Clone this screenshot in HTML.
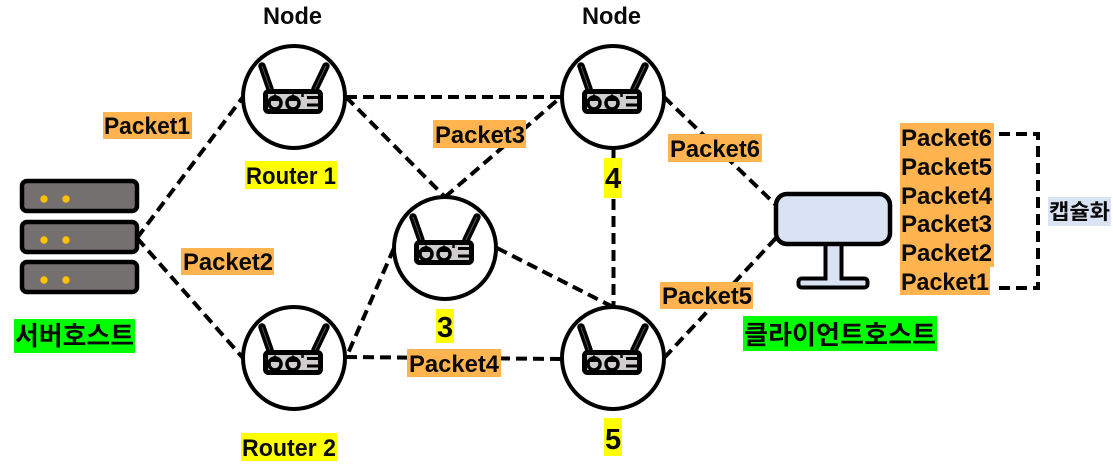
<!DOCTYPE html>
<html><head><meta charset="utf-8"><style>
html,body{margin:0;padding:0;background:#fff}
svg{display:block}
text{font-family:"Liberation Sans","Noto Sans CJK KR",sans-serif;font-weight:bold;fill:#0a0a0a}
.d{fill:none;stroke:#000;stroke-width:4;stroke-dasharray:11 6}
.o{fill:#ffb44f}.y{fill:#ffff00}.g{fill:#00ff00}
</style></head><body>
<svg width="1113" height="466" viewBox="0 0 1113 466" xmlns="http://www.w3.org/2000/svg">
<defs>
<g id="r">
<circle cx="0" cy="0" r="51" fill="#fff" stroke="#000" stroke-width="4"/>
<path d="M-32 -31L-24 -8M32 -31L21 -8" stroke="#000" stroke-width="7.5" stroke-linecap="round" fill="none"/>
<path d="M-32 -31L-24 -8M32 -31L21 -8" stroke="#555" stroke-width="1" fill="none"/>
<rect x="-28.500" y="-5.500" width="55" height="20" rx="3" fill="#cfcdce" stroke="#000" stroke-width="5"/>
<circle cx="-19" cy="6" r="6" fill="#cfcdce" stroke="#000" stroke-width="3.500"/>
<circle cx="-1" cy="6" r="6" fill="#cfcdce" stroke="#000" stroke-width="3.500"/>
<path d="M-24 4L-19 -2L-14 4M-6 4L-1 -2L4 4" fill="#000" stroke="#000" stroke-width="1.500"/>
<path d="M13 0.500H25M13 8H25" stroke="#000" stroke-width="3"/>
<path d="M8.500 -3V0" stroke="#000" stroke-width="2.500"/>
</g>
<g id="s">
<rect x="0" y="0" width="115" height="30" rx="5" fill="#757070" stroke="#000" stroke-width="4.500"/>
<circle cx="22" cy="18" r="3.700" fill="#ffc000"/>
<circle cx="44" cy="18" r="3.700" fill="#ffc000"/>
</g>
</defs>
<path class="d" d="M137 238L243 97"/>
<path class="d" d="M137 238L243 358"/>
<path class="d" d="M346 97L561 97"/>
<path class="d" d="M346 97L445 197"/>
<path class="d" d="M445 197L561 97"/>
<path class="d" d="M394 248L346 358"/>
<path class="d" d="M346 357L561 359"/>
<path class="d" d="M497 248L613 307"/>
<path class="d" d="M613.500 148L613.500 307"/>
<path class="d" d="M664 97L776 205"/>
<path class="d" d="M664 358L776 238"/>
<path class="d" d="M999 134H1038V288H999"/>
<use href="#r" x="294" y="97"/>
<use href="#r" x="613" y="97"/>
<use href="#r" x="445" y="248"/>
<use href="#r" x="294" y="358"/>
<use href="#r" x="613" y="358"/>
<use href="#s" x="22" y="181"/>
<use href="#s" x="22" y="222"/>
<use href="#s" x="22" y="262"/>
<rect x="825.500" y="244" width="16" height="36" fill="#dae3f3" stroke="#000" stroke-width="4"/>
<rect x="798.500" y="278.500" width="69" height="9" rx="3" fill="#dae3f3" stroke="#000" stroke-width="4"/>
<rect x="827.500" y="275" width="12" height="6" fill="#dae3f3"/>
<rect x="776" y="194" width="114" height="50" rx="11" fill="#dae3f3" stroke="#000" stroke-width="4.500"/>
<rect class="o" x="103" y="112" width="89" height="27"/>
<rect class="o" x="433" y="120" width="93" height="28"/>
<rect class="o" x="668" y="134" width="94" height="28"/>
<rect class="o" x="181" y="248" width="93" height="27"/>
<rect class="o" x="660" y="282" width="93" height="27"/>
<rect class="o" x="407" y="349" width="94" height="28"/>
<rect class="o" x="900" y="123" width="94" height="172"/>
<rect x="990" y="267" width="4" height="29" fill="#fff"/>
<rect class="y" x="245" y="161" width="92" height="28"/>
<rect class="y" x="241" y="433" width="96" height="28"/>
<rect class="y" x="604" y="158" width="18" height="40"/>
<rect class="y" x="436" y="309" width="18" height="34"/>
<rect class="y" x="604" y="418" width="18" height="38"/>
<rect class="g" x="14" y="319" width="121" height="34"/>
<rect class="g" x="743" y="316" width="194" height="35"/>
<rect x="1048" y="197" width="63" height="29" fill="#dae3f3"/>
<g font-size="24">
<text x="263" y="24" textLength="59" lengthAdjust="spacingAndGlyphs">Node</text>
<text x="582" y="24" textLength="59" lengthAdjust="spacingAndGlyphs">Node</text>
<text x="104" y="134" textLength="86" lengthAdjust="spacingAndGlyphs">Packet1</text>
<text x="435" y="143" textLength="90" lengthAdjust="spacingAndGlyphs">Packet3</text>
<text x="670" y="157" textLength="90" lengthAdjust="spacingAndGlyphs">Packet6</text>
<text x="183" y="270" textLength="90" lengthAdjust="spacingAndGlyphs">Packet2</text>
<text x="662" y="304" textLength="90" lengthAdjust="spacingAndGlyphs">Packet5</text>
<text x="409" y="372" textLength="90" lengthAdjust="spacingAndGlyphs">Packet4</text>
<text x="901" y="146" textLength="91" lengthAdjust="spacingAndGlyphs">Packet6</text>
<text x="901" y="175" textLength="91" lengthAdjust="spacingAndGlyphs">Packet5</text>
<text x="901" y="204" textLength="91" lengthAdjust="spacingAndGlyphs">Packet4</text>
<text x="901" y="232" textLength="91" lengthAdjust="spacingAndGlyphs">Packet3</text>
<text x="901" y="261" textLength="91" lengthAdjust="spacingAndGlyphs">Packet2</text>
<text x="901" y="290" textLength="88" lengthAdjust="spacingAndGlyphs">Packet1</text>
<text x="246" y="184" textLength="90" lengthAdjust="spacingAndGlyphs">Router 1</text>
<text x="242" y="456" textLength="94" lengthAdjust="spacingAndGlyphs">Router 2</text>
<text x="605" y="188" font-size="29">4</text>
<text x="437" y="337" font-size="29">3</text>
<text x="605" y="449" font-size="29">5</text>
<text x="15" y="345" font-size="26" textLength="119" lengthAdjust="spacingAndGlyphs">서버호스트</text>
<text x="744" y="344" font-size="26" textLength="192" lengthAdjust="spacingAndGlyphs">클라이언트호스트</text>
<text x="1049" y="219" font-size="21" textLength="61" lengthAdjust="spacingAndGlyphs">캡슐화</text>
</g>
</svg>
</body></html>
